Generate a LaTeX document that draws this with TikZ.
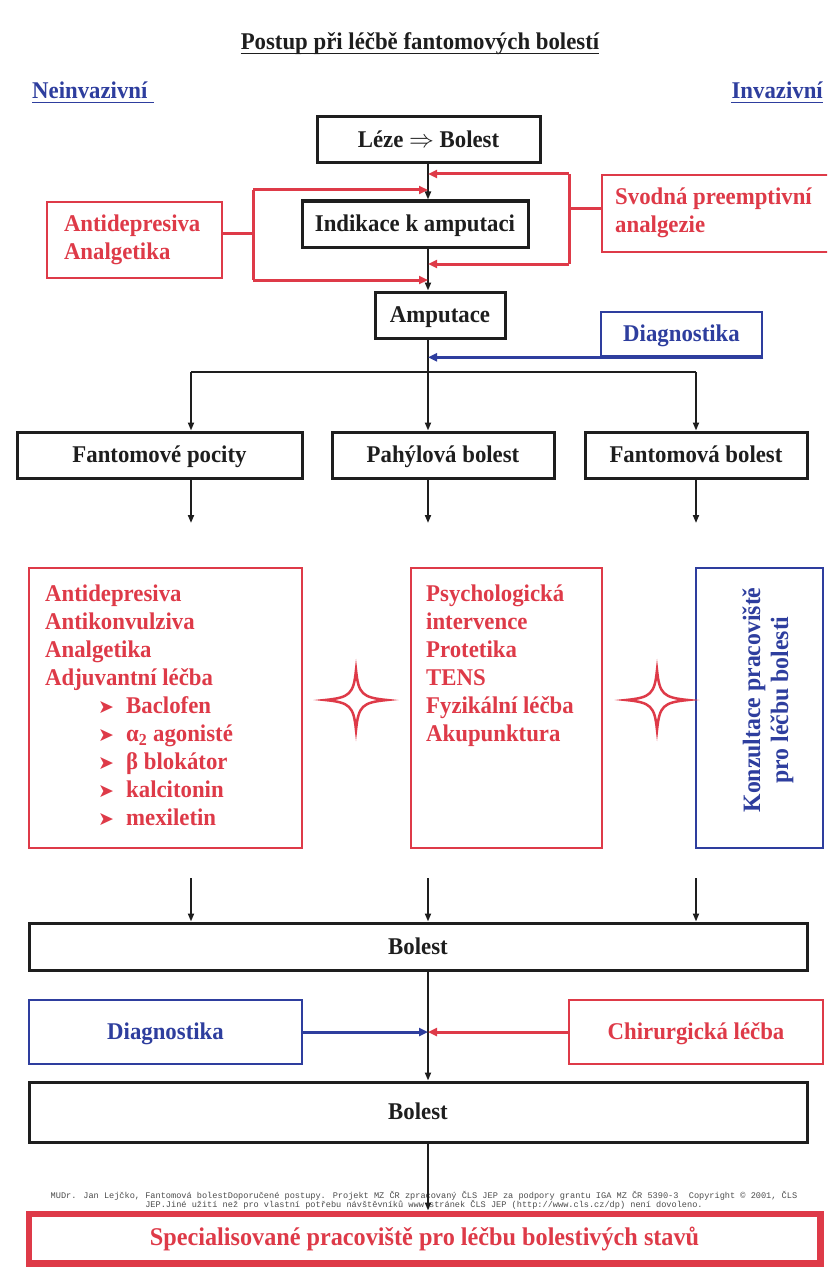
\documentclass[tikz,border=0pt]{standalone}
\usepackage{fontspec}
\setmainfont{Liberation Serif}[FakeStretch=0.95]
\newfontfamily\monof{Liberation Mono}
\newfontfamily\dejavu{DejaVu Sans}
\usetikzlibrary{arrows.meta,calc}
\definecolor{rd}{RGB}{222,58,72}
\definecolor{bl}{RGB}{46,62,158}
\definecolor{ink}{RGB}{30,30,30}
\newcommand\bigf{\fontsize{24}{28}\selectfont\bfseries}
\newcommand\specf{\fontsize{25.5}{30}\selectfont\bfseries}
\newcommand\footf{\monof\fontsize{8.6}{9.4}\selectfont}
\newcommand\myitem{\hspace*{53pt}\makebox[28pt][l]{\dejavu\fontsize{19}{19}\selectfont ➤}}
\tikzset{
  one/.style={text height=18pt, text depth=3pt},
  bbox/.style={draw=ink, line width=3pt, inner sep=0pt, text=ink, one},
  rbox/.style={draw=rd, line width=2.6pt, inner sep=0pt, text=rd},
  blbox/.style={draw=bl, line width=2.6pt, inner sep=0pt, text=bl},
  arr/.style={draw=ink, line width=1.8pt, -{Triangle[length=8pt,width=6pt]}},
  ln/.style={draw=ink, line width=1.8pt},
  rarr/.style={draw=rd, line width=3pt, -{Triangle[length=9pt,width=8pt]}},
  rln/.style={draw=rd, line width=3pt},
  barr/.style={draw=bl, line width=3pt, -{Triangle[length=9pt,width=8pt]}},
  uline/.style={line width=1.6pt},
  star4/.pic={\draw[rd, line width=2.5pt, fill=white] (0,-30) .. controls (2.5,-6) and (6,-2.5) .. (31,0) .. controls (6,2.5) and (2.5,6) .. (0,30) .. controls (-2.5,6) and (-6,2.5) .. (-31,0) .. controls (-6,-2.5) and (-2.5,-6) .. (0,-30) -- cycle;}
}
\begin{document}
\begin{tikzpicture}[x=1pt,y=-1pt,font=\bigf]
\clip (0,0) rectangle (827,1268);
\fill[white] (0,0) rectangle (827,1268);

% headings
\node[anchor=base, inner sep=0pt, text=ink] (title) at (420,50) {Postup při léčbě fantomových bolestí};
\draw[ink, uline] ([yshift=-3.5pt]title.base west) -- ([yshift=-3.5pt]title.base east);
\node[anchor=base west, inner sep=0pt, text=bl] (nein) at (32,99) {Neinvazivní};
\draw[bl, uline] ([yshift=-3.5pt]nein.base west) -- ([yshift=-3.5pt,xshift=6pt]nein.base east);
\node[anchor=base east, inner sep=0pt, text=bl] (inv) at (823,99) {Invazivní};
\draw[bl, uline] ([yshift=-3.5pt]inv.base west) -- ([yshift=-3.5pt]inv.base east);

% top column
\node[bbox, minimum width=223pt, minimum height=46pt] (leze) at (428.5,140) {Léze $\Rightarrow$ Bolest};
\node[bbox, minimum width=226pt, minimum height=46pt] (indik) at (415,224) {Indikace k amputaci};
\node[bbox, minimum width=130pt, minimum height=46pt] (amput) at (440,315) {Amputace};
\node[rbox, minimum width=175pt, minimum height=76pt, align=left, text width=141pt, inner xsep=17pt] (antid) at (134.5,240) {Antidepresiva\\Analgetika};
\node[rbox, minimum width=238pt, minimum height=77pt] (svod) at (721,213.5) {};
\node[anchor=north west, inner sep=0pt, text=rd, align=left] (svodt) at (615,188) {Svodná preemptivní\\analgezie};
\node[blbox, one, minimum width=161pt, minimum height=44pt] (diag1) at (681.5,334) {Diagnostika};

% column coordinates
\coordinate (hubc) at (428,372);
\coordinate (hubl) at (191,372);
\coordinate (hubr) at (696,372);
\coordinate (rb1) at (569,174);
\coordinate (rb2) at (569,264);
\coordinate (rbm) at (569,208);
\coordinate (lb1) at (253,190);
\coordinate (lb2) at (253,280);
\coordinate (lbm) at (253,233);

\draw[arr] (hubc |- leze.south) -- (hubc |- indik.north);
\draw[arr] (hubc |- indik.south) -- (hubc |- amput.north);
\draw[ln] (hubc |- amput.south) -- (hubc);

% red brackets
\draw[rln] (rb1) -- (rb2);
\draw[rln] (rbm) -- (rbm -| svod.west);
\draw[rarr] (rb1) -- (hubc |- rb1);
\draw[rarr] (rb2) -- (hubc |- rb2);
\draw[rln] (lb1) -- (lb2);
\draw[rln] (antid.east |- lbm) -- (lbm);
\draw[rarr] (lb1) -- (hubc |- lb1);
\draw[rarr] (lb2) -- (hubc |- lb2);

% diagnostika top
\draw[barr] (diag1.south east) -- (hubc |- diag1.south);

% row of three
\node[bbox, minimum width=285pt, minimum height=46pt] (fp) at (159.5,455) {Fantomové pocity};
\node[bbox, minimum width=222pt, minimum height=46pt] (pb) at (443,455) {Pahýlová bolest};
\node[bbox, minimum width=222pt, minimum height=46pt] (fb) at (696,455) {Fantomová bolest};

\draw[ln] (hubl) -- (hubr);
\draw[arr] (hubl) -- (hubl |- fp.north);
\draw[arr] (hubc) -- (hubc |- pb.north);
\draw[arr] (hubr) -- (hubr |- fb.north);

\coordinate (ta1) at (191,523);
\coordinate (ta2) at (428,523);
\coordinate (ta3) at (696,523);
\draw[arr] (ta1 |- fp.south) -- (ta1);
\draw[arr] (ta2 |- pb.south) -- (ta2);
\draw[arr] (ta3 |- fb.south) -- (ta3);

% treatment boxes
\node[rbox, minimum width=273pt, minimum height=280pt] (lred) at (165.5,708) {};
\node[rbox, minimum width=191pt, minimum height=280pt] (mred) at (506.5,708) {};
\node[blbox, minimum width=127pt, minimum height=280pt] (blu) at (759.5,708) {};
\node[anchor=north west, inner sep=0pt, text=rd, align=left] (lredt) at (45,585) {Antidepresiva\\Antikonvulziva\\Analgetika\\Adjuvantní léčba\\\myitem Baclofen\\\myitem α\textsubscript{2} agonisté\\\myitem β blokátor\\\myitem kalcitonin\\\myitem mexiletin};
\node[anchor=north west, inner sep=0pt, text=rd, align=left] (mredt) at (426,585) {Psychologická\\intervence\\Protetika\\TENS\\Fyzikální léčba\\Akupunktura};
\node[rotate=90, inner sep=0pt, text=bl, align=center, font=\fontsize{25}{28}\selectfont\bfseries] (blut) at (768,700) {Konzultace pracoviště\\pro léčbu bolesti};
\pic at (356,700) {star4};
\pic at (657,700) {star4};

% bottom part
\node[bbox, minimum width=778pt, minimum height=47pt] (bol1) at (418,946.5) {Bolest};
\coordinate (tb1) at (191,878);
\coordinate (tb2) at (428,878);
\coordinate (tb3) at (696,878);
\draw[arr] (tb1) -- (tb1 |- bol1.north);
\draw[arr] (tb2) -- (tb2 |- bol1.north);
\draw[arr] (tb3) -- (tb3 |- bol1.north);

\node[blbox, one, minimum width=273pt, minimum height=64pt] (diag2) at (165.5,1032) {Diagnostika};
\node[rbox, one, minimum width=254pt, minimum height=64pt] (chir) at (696,1032) {Chirurgická léčba};
\node[bbox, minimum width=778pt, minimum height=60pt] (bol2) at (418,1112) {Bolest};

\draw[arr] (hubc |- bol1.south) -- (hubc |- bol2.north);
\draw[barr] (diag2.east) -- (hubc |- diag2.east);
\draw[rarr] (chir.west) -- (hubc |- chir.west);

\node[font=\footf, text=black!70, align=center, inner sep=0pt] (foot) at (424,1200) {MUDr. Jan Lejčko, Fantomová bolestDoporučené postupy. Projekt MZ ČR zpracovaný ČLS JEP za podpory grantu IGA MZ ČR 5390-3\ \ Copyright © 2001, ČLS\\JEP.Jiné užití než pro vlastní potřebu návštěvníků www stránek ČLS JEP (http://www.cls.cz/dp) není dovoleno.};

\node[draw=rd, line width=5pt, minimum width=793pt, minimum height=51pt, inner sep=0pt, text=rd, font=\specf, text height=18pt, text depth=4pt] (spec) at (424.5,1238.5) {Specialisované pracoviště pro léčbu bolestivých stavů};
\draw[rd, line width=1.5pt] ($(spec.north west)+(5.5,5.5)$) rectangle ($(spec.south east)+(-5.5,-5.5)$);
\draw[arr] (hubc |- bol2.south) -- (hubc |- spec.north);
\end{tikzpicture}
\end{document}
